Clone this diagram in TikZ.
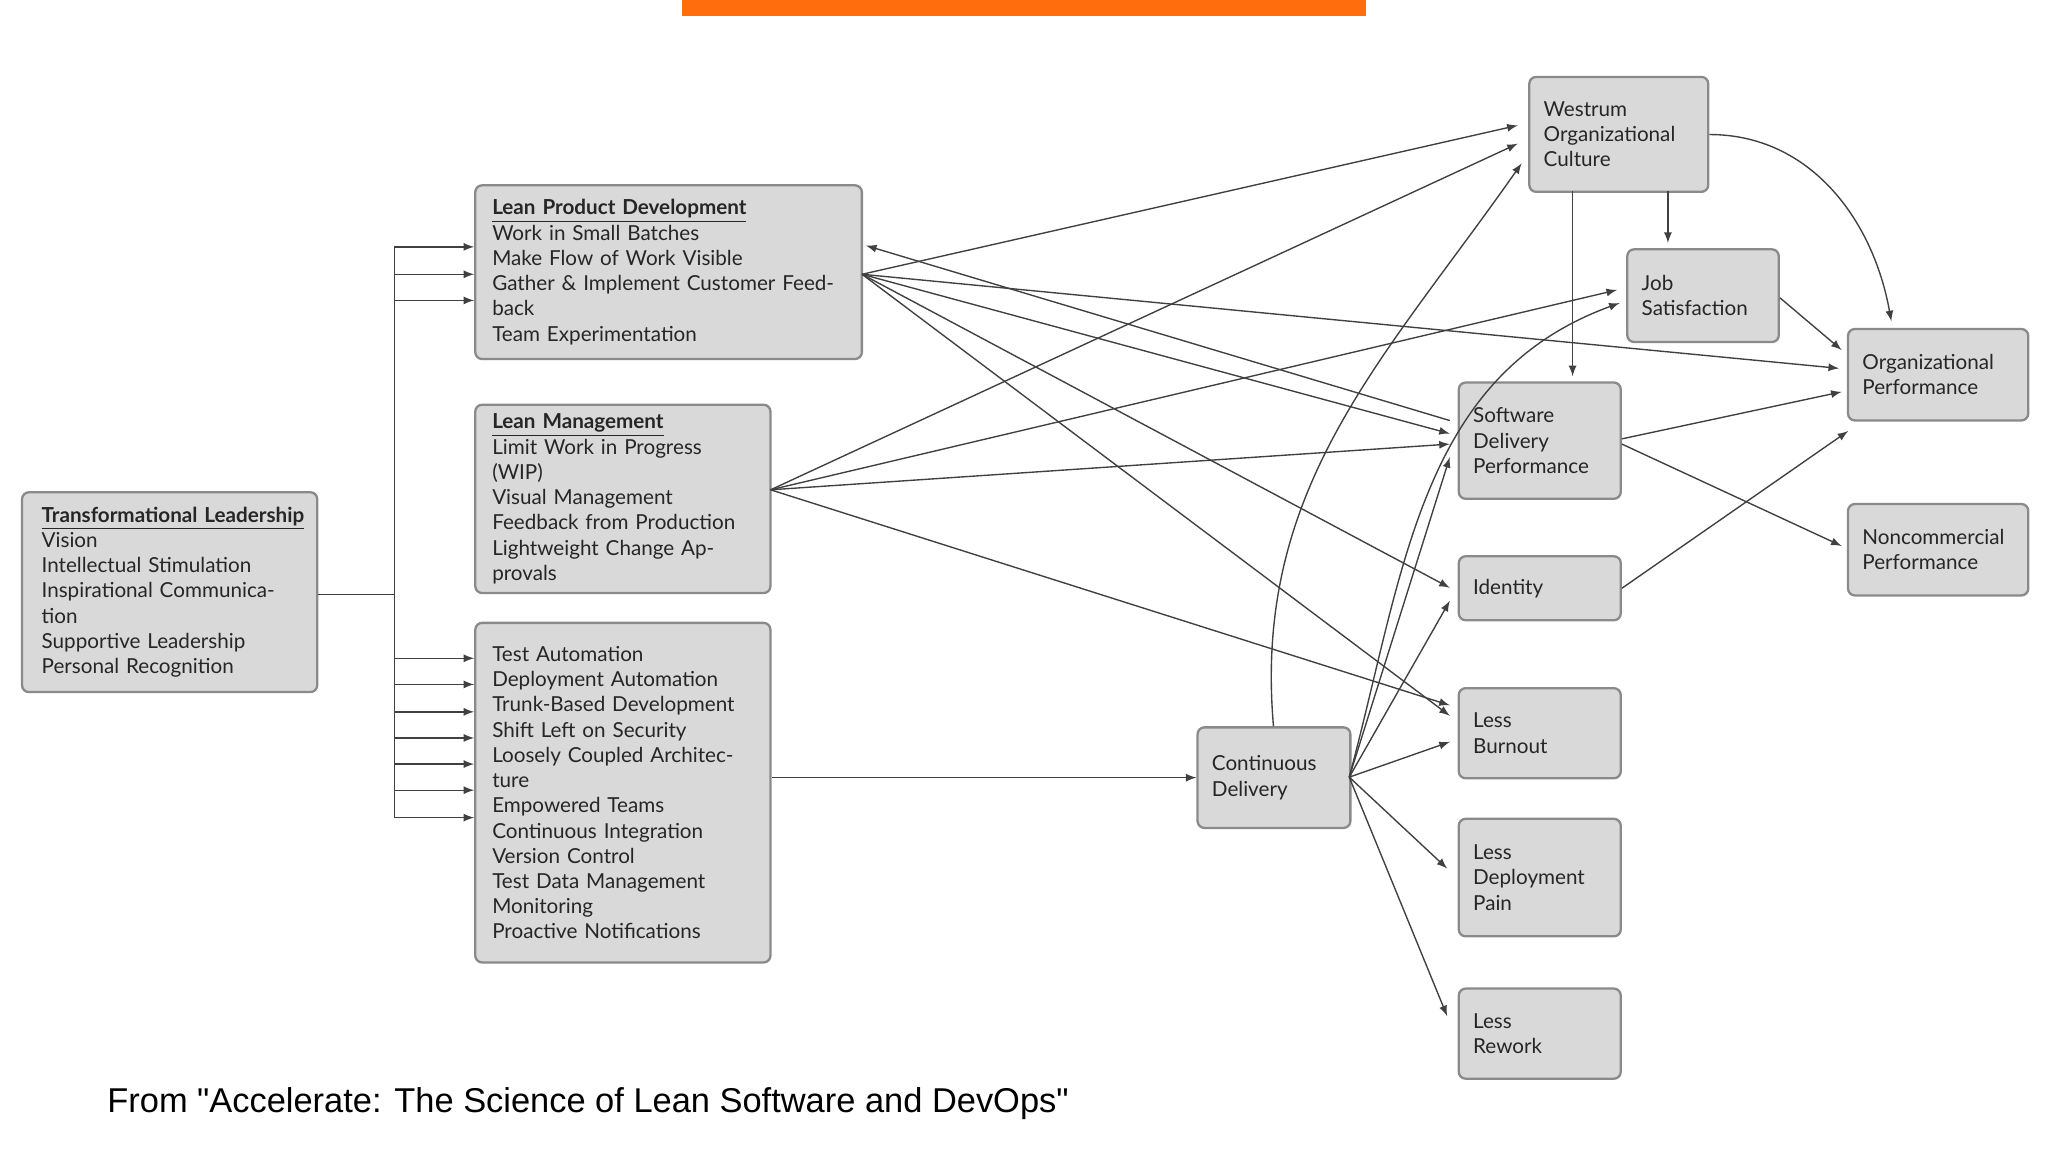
\documentclass[tikz,border=0pt]{standalone}
\usepackage{fontspec}
\setmainfont{Lato}
\newfontfamily\capfont{Liberation Sans}
\usetikzlibrary{arrows}
\usetikzlibrary{positioning}
\usetikzlibrary{calc}
\definecolor{boxfill}{HTML}{D9D9D9}
\definecolor{boxline}{HTML}{8A8A8A}
\definecolor{bar}{HTML}{FF6D0C}
\tikzstyle{box} = [rectangle, rounded corners=3, draw=boxline, line width=1, fill=boxfill, align=left, anchor=north west, inner xsep=6pt, inner ysep=4pt, font=\small, text=black!85]
\tikzstyle{ar} = [-latex, draw=black!75, line width=0.6]
\tikzstyle{ln} = [-, draw=black!75, line width=0.6]
\begin{document}
\begin{tikzpicture}[x=0.02cm, y=-0.02cm]
\useasboundingbox (0,0) rectangle (1568,882);
\fill[bar] (522,0) rectangle (1046,12);

% Nodes: practices
\node[box, minimum width=226*0.02cm, minimum height=153*0.02cm, text width=196*0.02cm] (tl) at (16,376) {\underline{\textbf{Transformational Leadership}}\\Vision\\Intellectual Stimulation\\Inspirational Communication\\Supportive Leadership\\Personal Recognition};
\node[box, minimum width=296*0.02cm, minimum height=133*0.02cm, text width=270*0.02cm] (lpd) at (363,141) {\underline{\textbf{Lean Product Development}}\\Work in Small Batches\\Make Flow of Work Visible\\Gather \& Implement Customer Feedback\\Team Experimentation};
\node[box, minimum width=226*0.02cm, minimum height=133*0.02cm, text width=200*0.02cm] (lm) at (363,309) {\underline{\textbf{Lean Management}}\\Limit Work in Progress (WIP)\\Visual Management\\Feedback from Production\\Lightweight Change Approvals};
\node[box, minimum width=226*0.02cm, minimum height=260*0.02cm, text width=200*0.02cm] (cdp) at (363,476) {Test Automation\\Deployment Automation\\Trunk-Based Development\\Shift Left on Security\\Loosely Coupled Architecture\\Empowered Teams\\Continuous Integration\\Version Control\\Test Data Management\\Monitoring\\Proactive Notifications};

% Nodes: outcomes
\node[box, minimum width=117*0.02cm, minimum height=77*0.02cm, text width=95*0.02cm] (cd) at (916,556) {Continuous\\Delivery};
\node[box, minimum width=137*0.02cm, minimum height=88*0.02cm, text width=115*0.02cm] (wes) at (1170,58) {Westrum\\Organizational\\Culture};
\node[box, minimum width=116*0.02cm, minimum height=71*0.02cm, text width=94*0.02cm] (job) at (1245,190) {Job\\Satisfaction};
\node[box, minimum width=124*0.02cm, minimum height=89*0.02cm, text width=102*0.02cm] (sdp) at (1116,292) {Software\\Delivery\\Performance};
\node[box, minimum width=124*0.02cm, minimum height=49*0.02cm, text width=102*0.02cm] (ident) at (1116,425) {Identity};
\node[box, minimum width=124*0.02cm, minimum height=69*0.02cm, text width=102*0.02cm] (burn) at (1116,526) {Less\\Burnout};
\node[box, minimum width=124*0.02cm, minimum height=90*0.02cm, text width=102*0.02cm] (pain) at (1116,626) {Less\\Deployment\\Pain};
\node[box, minimum width=124*0.02cm, minimum height=69*0.02cm, text width=102*0.02cm] (rework) at (1116,756) {Less\\Rework};
\node[box, minimum width=138*0.02cm, minimum height=70*0.02cm, text width=116*0.02cm] (org) at (1414,251) {Organizational\\Performance};
\node[box, minimum width=138*0.02cm, minimum height=70*0.02cm, text width=116*0.02cm] (nonc) at (1414,385) {Noncommercial\\Performance};

\node[anchor=west, font=\capfont\fontsize{15}{18}\selectfont] (cap) at (76,845) {From "Accelerate: The Science of Lean Software and DevOps"};

% Bus from leadership
\coordinate (bus) at (302,455);
\draw[ln] (tl.east |- bus) -- (bus);
\draw[ln] (302,189) -- (302,626);
\foreach \y in {189,210,230} \draw[ar] (302,\y) -- (lpd.west |- 0,\y);
\foreach \y in {504,524,545,565,585,605,626} \draw[ar] (302,\y) -- (cdp.west |- 0,\y);

% Connections: lean product development
\coordinate (lpdo) at (660,210);
\draw[ar] (lpdo) -- (1162,96);
\draw[ar] (lpdo) -- (1408,282);
\draw[ar] (lpdo) -- (1110,332);
\draw[ar] (lpdo) -- (1110,450);
\draw[ar] (lpdo) -- (1110,548);
\draw[ar] (1110,322) -- (663,188);

% Connections: lean management
\coordinate (lmo) at (590,375);
\draw[ar] (lmo) -- (1162,110);
\draw[ar] (lmo) -- (1238,222);
\draw[ar] (lmo) -- (1110,340);
\draw[ar] (lmo) -- (1110,540);

% Connections: continuous delivery
\draw[ar] (cdp.east |- cd.west) -- (cd.west);
\coordinate (cdo) at (1033,595);
\draw[ar] (975,556) to [out=95,in=235] (1165,125);
\draw[ar] (cdo) to [out=75,in=200] (1240,232);
\draw[ar] (cdo) -- (1110,350);
\draw[ar] (cdo) -- (1110,460);
\draw[ar] (cdo) -- (1110,568);
\draw[ar] (cdo) -- (1108,665);
\draw[ar] (cdo) -- (1108,778);

% Connections: culture and performance
\draw[ar] (1277,146) -- (1277,186);
\draw[ar] (1204,146) -- (1204,288);
\draw[ar] (wes.east |- 0,103) to [out=0,in=100] (1448,246);
\draw[ar] (job.east |- 0,228) -- (1410,268);
\draw[ar] (sdp.east |- 0,336) -- (1410,300);
\draw[ar] (sdp.east |- 0,340) -- (1410,418);
\draw[ar] (ident.east) -- (1415,330);
\end{tikzpicture}
\end{document}
